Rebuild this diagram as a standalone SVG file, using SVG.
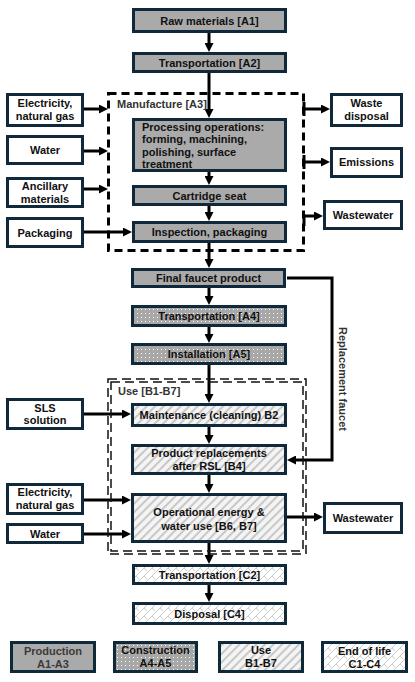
<svg xmlns="http://www.w3.org/2000/svg" width="415" height="682" viewBox="0 0 415 682">
<defs>
<style>
.box{stroke:#10293a;stroke-width:3}
.prod{fill:#aaaaaa}
.side{fill:#ffffff}
.t{font-family:"Liberation Sans",Arial,sans-serif;font-size:11px;font-weight:bold;fill:#111;dominant-baseline:central}
.c{text-anchor:middle}
.lbl{fill:#333}
.arr{stroke:#000;stroke-width:3;fill:none;marker-end:url(#ah)}
.tick{stroke:#000;stroke-width:3}
.dbl{fill:none;stroke:#111;stroke-width:1.5;stroke-dasharray:9 5}
</style>
<marker id="ah" viewBox="0 0 9 9" refX="5" refY="4.5" markerWidth="9" markerHeight="9" markerUnits="userSpaceOnUse" orient="auto">
<path d="M0,0 L9,4.5 L0,9 z" fill="#000"/>
</marker>
<pattern id="dots" width="4" height="4" patternUnits="userSpaceOnUse">
<rect width="4" height="4" fill="#a8a8a8"/>
<rect x="1" y="1" width="1" height="1" fill="#ffffff"/>
</pattern>
<pattern id="hatch" width="6" height="6" patternUnits="userSpaceOnUse" patternTransform="rotate(45)">
<rect width="6" height="6" fill="#f4f4f4"/>
<rect width="2" height="6" fill="#c8c8c8"/>
</pattern>
<pattern id="zig" width="8" height="8" patternUnits="userSpaceOnUse">
<rect width="8" height="8" fill="#ffffff"/>
<path d="M0,8 L8,0 M0,0 L3,3 M-1,1 L1,-1 M7,9 L9,7" stroke="#bdbdbd" stroke-width="0.8" fill="none"/>
</pattern>
</defs>

<g id="connectors">
<line class="arr" x1="209" y1="33" x2="209" y2="48"/>
<line class="arr" x1="209" y1="73" x2="209" y2="114"/>
<line class="arr" x1="209" y1="172" x2="209" y2="181"/>
<line class="arr" x1="209" y1="206" x2="209" y2="217"/>
<line class="arr" x1="209" y1="243" x2="209" y2="264"/>
<line class="arr" x1="209" y1="288" x2="209" y2="301"/>
<line class="arr" x1="209" y1="327" x2="209" y2="339"/>
<line class="arr" x1="209" y1="365" x2="209" y2="399"/>
<line class="arr" x1="209" y1="427" x2="209" y2="440"/>
<line class="arr" x1="209" y1="475" x2="209" y2="489"/>
<line class="arr" x1="209" y1="528" x2="209" y2="560"/>
<line class="arr" x1="209" y1="585" x2="209" y2="598"/>
<line class="arr" x1="84" y1="109" x2="104" y2="109"/>
<line class="arr" x1="84" y1="151" x2="104" y2="151"/>
<line class="arr" x1="84" y1="189" x2="104" y2="189"/>
<line class="arr" x1="84" y1="232" x2="128" y2="232"/>
<line class="arr" x1="304" y1="109" x2="326" y2="109"/>
<line class="tick" x1="304" y1="102" x2="304" y2="116"/>
<line class="arr" x1="304" y1="162" x2="326" y2="162"/>
<line class="tick" x1="304" y1="155" x2="304" y2="169"/>
<line class="arr" x1="304" y1="216" x2="319" y2="216"/>
<line class="tick" x1="304" y1="214.5" x2="304" y2="226"/>
<line class="arr" x1="84" y1="414" x2="127" y2="414"/>
<line class="arr" x1="84" y1="500" x2="127" y2="500"/>
<line class="arr" x1="84" y1="534" x2="127" y2="534"/>
<line class="arr" x1="279" y1="517" x2="319" y2="517"/>
<polyline class="arr" points="287,278 332,278 332,460 291,460"/>
</g>

<g id="manufacture">
<rect x="108.5" y="93.5" width="195" height="157" fill="none" stroke="#000" stroke-width="3" stroke-dasharray="8 5"/>
<text class="t lbl" x="117" y="104">Manufacture [A3]</text>
</g>
<g id="use">
<rect class="dbl" x="108" y="379" width="198" height="175"/>
<rect class="dbl" x="111" y="382" width="192" height="169"/>
<text class="t lbl" x="118" y="391">Use [B1-B7]</text>
</g>
<g id="replacement-label">
<text class="t c lbl" transform="translate(343,379) rotate(90)" x="0" y="0">Replacement faucet</text>
</g>

<g id="a1"><rect class="box prod" x="133.5" y="9.5" width="152" height="22"/><text class="t c" x="209.5" y="21">Raw materials [A1]</text></g>
<g id="a2"><rect class="box prod" x="133.5" y="53.5" width="152" height="18"/><text class="t c" x="209.5" y="62.5">Transportation [A2]</text></g>
<g id="processing"><rect class="box prod" x="133.5" y="119.5" width="152" height="51"/>
<text class="t" x="142" y="126.5">Processing operations:</text>
<text class="t" x="142" y="139">forming, machining,</text>
<text class="t" x="142" y="151.5">polishing, surface</text>
<text class="t" x="142" y="164">treatment</text></g>
<g id="cartridge"><rect class="box prod" x="133.5" y="186.5" width="152" height="18"/><text class="t c" x="209.5" y="195.5">Cartridge seat</text></g>
<g id="inspection"><rect class="box prod" x="133.5" y="222.5" width="152" height="19"/><text class="t c" x="209.5" y="232">Inspection, packaging</text></g>
<g id="final"><rect class="box prod" x="132.5" y="269.5" width="152" height="17"/><text class="t c" x="208.5" y="278">Final faucet product</text></g>
<g id="a4"><rect class="box" fill="url(#dots)" x="132.5" y="306.5" width="153" height="19"/><text class="t c" x="209" y="316">Transportation [A4]</text></g>
<g id="a5"><rect class="box" fill="url(#dots)" x="132.5" y="344.5" width="153" height="19"/><text class="t c" x="209" y="354">Installation [A5]</text></g>
<g id="b2"><rect class="box" fill="url(#hatch)" x="132.5" y="404.5" width="153" height="21"/><text class="t c" x="209" y="415">Maintenance (cleaning) B2</text></g>
<g id="b4"><rect class="box" fill="url(#hatch)" x="132.5" y="445.5" width="153" height="28"/>
<text class="t c" x="209" y="453">Product replacements</text>
<text class="t c" x="209" y="466">after RSL [B4]</text></g>
<g id="b6b7"><rect class="box" fill="url(#hatch)" x="132.5" y="494.5" width="153" height="47"/>
<text class="t c" x="209" y="512">Operational energy &amp;</text>
<text class="t c" x="209" y="525.5">water use [B6, B7]</text></g>
<g id="c2"><rect class="box" fill="url(#zig)" x="133.5" y="565.5" width="152" height="18"/><text class="t c" x="209.5" y="574.5">Transportation [C2]</text></g>
<g id="c4"><rect class="box" fill="url(#zig)" x="133.5" y="603.5" width="152" height="20"/><text class="t c" x="209.5" y="613.5">Disposal [C4]</text></g>

<g id="elec1"><rect class="box side" x="7.5" y="94.5" width="75" height="31"/><text class="t c" x="45" y="103">Electricity,</text><text class="t c" x="45" y="116">natural gas</text></g>
<g id="water1"><rect class="box side" x="7.5" y="136.5" width="75" height="27"/><text class="t c" x="45" y="150">Water</text></g>
<g id="ancillary"><rect class="box side" x="7.5" y="178.5" width="75" height="28"/><text class="t c" x="45" y="185.5">Ancillary</text><text class="t c" x="45" y="198.5">materials</text></g>
<g id="packaging"><rect class="box side" x="7.5" y="218.5" width="75" height="28"/><text class="t c" x="45" y="232.5">Packaging</text></g>
<g id="sls"><rect class="box side" x="7.5" y="399.5" width="75" height="29"/><text class="t c" x="45" y="407.5">SLS</text><text class="t c" x="45" y="420">solution</text></g>
<g id="elec2"><rect class="box side" x="7.5" y="484.5" width="75" height="29"/><text class="t c" x="45" y="492">Electricity,</text><text class="t c" x="45" y="505">natural gas</text></g>
<g id="water2"><rect class="box side" x="7.5" y="524.5" width="75" height="18"/><text class="t c" x="45" y="533.5">Water</text></g>

<g id="waste-disposal"><rect class="box side" x="331.5" y="94.5" width="70" height="31"/><text class="t c" x="366.5" y="102.5">Waste</text><text class="t c" x="366.5" y="116">disposal</text></g>
<g id="emissions"><rect class="box side" x="331.5" y="148.5" width="70" height="28"/><text class="t c" x="366.5" y="161.5">Emissions</text></g>
<g id="wastewater1"><rect class="box side" x="324.5" y="201.5" width="77" height="27"/><text class="t c" x="363" y="215">Wastewater</text></g>
<g id="wastewater2"><rect class="box side" x="324.5" y="503.5" width="77" height="29"/><text class="t c" x="363" y="517.5">Wastewater</text></g>

<g id="legend-production"><rect class="box prod" x="11.5" y="642.5" width="83" height="29"/><text class="t c" x="53" y="650.5" style="fill:#3a3a3a">Production</text><text class="t c" x="53" y="663.5" style="fill:#3a3a3a">A1-A3</text></g>
<g id="legend-construction"><rect class="box" fill="url(#dots)" x="114.5" y="642.5" width="82" height="29"/><text class="t c" x="155.5" y="650">Construction</text><text class="t c" x="155.5" y="663">A4-A5</text></g>
<g id="legend-use"><rect class="box" fill="url(#hatch)" x="219.5" y="642.5" width="83" height="29"/><text class="t c" x="261" y="650">Use</text><text class="t c" x="261" y="663">B1-B7</text></g>
<g id="legend-eol"><rect class="box" fill="url(#zig)" x="322.5" y="642.5" width="84" height="29"/><text class="t c" x="364.5" y="650.5">End of life</text><text class="t c" x="364.5" y="663.5">C1-C4</text></g>
</svg>
